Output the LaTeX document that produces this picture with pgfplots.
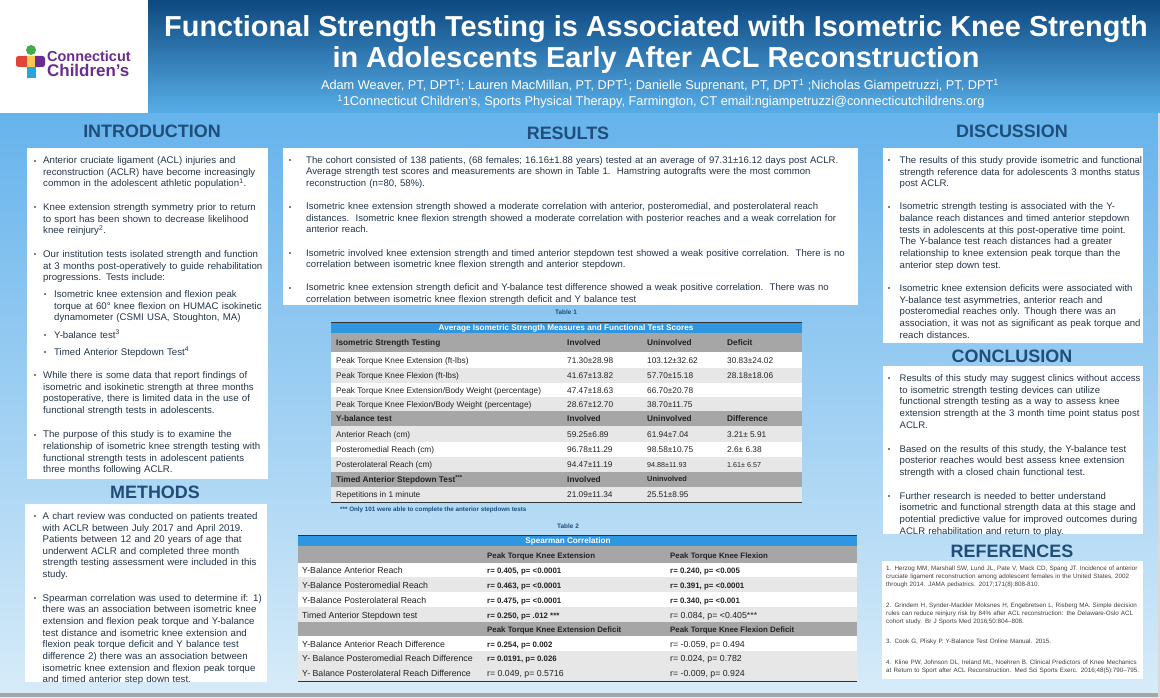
\documentclass[border=0pt]{standalone}
\usepackage{pgfplots}
\pgfplotsset{compat=1.18}
\usepackage{fontspec}
\setmainfont{Liberation Sans}
\definecolor{hdrtop}{HTML}{0D4880}
\definecolor{hdrbot}{HTML}{58AEE8}
\definecolor{bgtop}{HTML}{66B3EC}
\definecolor{bgbot}{HTML}{D8ECF9}
\definecolor{headblue}{HTML}{1E4E79}
\definecolor{bodytext}{HTML}{233549}
\definecolor{bulgray}{HTML}{7F7F7F}
\definecolor{tblue}{HTML}{2F96E2}
\definecolor{tgray}{HTML}{A6A6A6}
\definecolor{tlight}{HTML}{E7E7E7}
\definecolor{ttext}{HTML}{222222}
\definecolor{lgred}{HTML}{E0453A}
\definecolor{lgyel}{HTML}{F6C850}
\definecolor{lgpur}{HTML}{6B2C91}
\definecolor{lgblu}{HTML}{28A4DE}
\definecolor{lggrn}{HTML}{3FAE49}
\newlength\bind
\newlength\sbind
\def\nl{\unskip\break}
\newcommand{\bmark}{\textcolor{bulgray}{\rule[0.22em]{2bp}{2bp}}}
\newcommand{\bul}[1]{\par\noindent\hangindent=\bind\hangafter=1\makebox[\bind][l]{\hspace{1bp}\bmark}#1\par}
\newcommand{\sbul}[1]{\par\noindent\hangindent=\dimexpr\sbind+10bp\relax\hangafter=1\hspace*{\sbind}\makebox[10bp][l]{\bmark}#1\par}
\newcommand{\gap}[1]{\par\vspace{#1bp}}
\newcommand{\hd}[3]{\node[anchor=base, inner sep=0pt, font=\bfseries\fontsize{18}{20}\selectfont, text=headblue] at (axis cs:#1,#2) {#3};}
\newcommand{\tfont}{\fontsize{8.3}{9.5}\selectfont}
\newcommand{\tfontb}{\fontsize{8.8}{9.5}\selectfont}
\newcommand{\tfontbb}{\fontsize{7.9}{9.5}\selectfont}
\newcommand{\tc}[3]{\node[anchor=base west, inner sep=0pt, text=ttext, font=\tfont] at (axis cs:#1,#2) {#3};}
\newcommand{\tb}[3]{\node[anchor=base west, inner sep=0pt, text=ttext, font=\bfseries\tfont] at (axis cs:#1,#2) {#3};}
\newcommand{\tcc}[3]{\node[anchor=base west, inner sep=0pt, text=ttext, font=\tfontb] at (axis cs:#1,#2) {#3};}
\newcommand{\tbb}[3]{\node[anchor=base west, inner sep=0pt, text=ttext, font=\bfseries\tfontbb] at (axis cs:#1,#2) {#3};}
\newcommand{\rowf}[5]{\fill[#5] (axis cs:#1,#3) rectangle (axis cs:#2,#4);}
\begin{document}
\begin{tikzpicture}
\begin{axis}[
  width=1160bp, height=697bp, scale only axis,
  xmin=0, xmax=1160, ymin=0, ymax=697, y dir=reverse,
  hide axis, clip=false
]
% ---------- backgrounds ----------
\shade[top color=bgtop, bottom color=bgbot] (axis cs:0,113) rectangle (axis cs:1160,697);
\fill[white] (axis cs:0,0) rectangle (axis cs:148,113);
\shade[top color=hdrtop, bottom color=hdrbot] (axis cs:148,0) rectangle (axis cs:1160,113);
\fill[black!35] (axis cs:0,693) rectangle (axis cs:1160,697);
\fill[black!15] (axis cs:1157.5,113) rectangle (axis cs:1160,697);
% ---------- logo ----------
\fill[lgred, rounded corners=2.5bp] (axis cs:16,56) rectangle (axis cs:29,67);
\fill[lgpur, rounded corners=2.5bp] (axis cs:33,56) rectangle (axis cs:45,67);
\fill[lgyel] (axis cs:26.5,56) rectangle (axis cs:35,67);
\fill[lgblu] (axis cs:26.5,67) rectangle (axis cs:35.5,78);
\fill[lggrn] (axis cs:31,50) circle[radius=5bp];
\node[anchor=base west, inner sep=0pt, text=lgpur, font=\bfseries\fontsize{14.5}{15}\selectfont] at (axis cs:47,61.5) {Connecticut};
\node[anchor=base west, inner sep=0pt, text=lgpur, font=\bfseries\fontsize{17}{18}\selectfont] at (axis cs:47,77) {Children’s};
% ---------- title ----------
\node[anchor=base, inner sep=0pt, text=white, font=\bfseries\fontsize{29}{31}\selectfont] at (axis cs:656,37) {Functional Strength Testing is Associated with Isometric Knee Strength};
\node[anchor=base, inner sep=0pt, text=white, font=\bfseries\fontsize{29}{31}\selectfont] at (axis cs:656,67.5) {in Adolescents Early After ACL Reconstruction};
\node[anchor=base, inner sep=0pt, text=white, font=\fontsize{12.8}{14}\selectfont] at (axis cs:660,89.5) {Adam Weaver, PT, DPT\textsuperscript{1}; Lauren MacMillan, PT, DPT\textsuperscript{1}; Danielle Suprenant, PT, DPT\textsuperscript{1} ;Nicholas Giampetruzzi, PT, DPT\textsuperscript{1}};
\node[anchor=base, inner sep=0pt, text=white, font=\fontsize{12.8}{14}\selectfont] at (axis cs:661,105.5) {\textsuperscript{1}1Connecticut Children’s, Sports Physical Therapy, Farmington, CT email:ngiampetruzzi@connecticutchildrens.org};
% ---------- headings ----------
\hd{152}{137.5}{INTRODUCTION}
\hd{155}{498}{METHODS}
\hd{568}{139.5}{RESULTS}
\hd{1012}{137.5}{DISCUSSION}
\hd{1012}{362}{CONCLUSION}
\hd{1012}{557}{REFERENCES}
% ---------- white boxes ----------
\fill[white] (axis cs:27,148) rectangle (axis cs:268,479);
\fill[white] (axis cs:25,504) rectangle (axis cs:267,682);
\fill[white] (axis cs:283,148) rectangle (axis cs:858,305);
\fill[white] (axis cs:883,148) rectangle (axis cs:1143,343);
\fill[white] (axis cs:883,366) rectangle (axis cs:1143,534);
\fill[white] (axis cs:882,561) rectangle (axis cs:1143,679);
% ---------- introduction ----------
\node[anchor=north west, inner sep=0pt, text width=245bp, text=bodytext, font=\fontsize{9.7}{11.7}\selectfont] at (axis cs:33,151.8) {%
\raggedright\setlength\bind{10bp}\setlength\sbind{11bp}%
\bul{Anterior cruciate ligament (ACL) injuries and\nl reconstruction (ACLR) have become increasingly\nl common in the adolescent athletic population\textsuperscript{1}.}\gap{12}
\bul{Knee extension strength symmetry prior to return\nl to sport has been shown to decrease likelihood\nl knee reinjury\textsuperscript{2}.}\gap{12}
\bul{Our institution tests isolated strength and function\nl at 3 months post-operatively to guide rehabilitation\nl progressions. Tests include:}\gap{5}
\sbul{Isometric knee extension and flexion peak\nl torque at 60° knee flexion on HUMAC isokinetic\nl dynamometer (CSMI USA, Stoughton, MA)}\gap{6}
\sbul{Y-balance test\textsuperscript{3}}\gap{5}
\sbul{Timed Anterior Stepdown Test\textsuperscript{4}}\gap{11.5}
\bul{While there is some data that report findings of\nl isometric and isokinetic strength at three months\nl postoperative, there is limited data in the use of\nl functional strength tests in adolescents.}\gap{13}
\bul{The purpose of this study is to examine the\nl relationship of isometric knee strength testing with\nl functional strength tests in adolescent patients\nl three months following ACLR.}};
% ---------- methods ----------
\node[anchor=north west, inner sep=0pt, text width=245bp, text=bodytext, font=\fontsize{9.7}{11.7}\selectfont] at (axis cs:33,507.5) {%
\raggedright\setlength\bind{9.5bp}%
\bul{A chart review was conducted on patients treated\nl with ACLR between July 2017 and April 2019.\nl Patients between 12 and 20 years of age that\nl underwent ACLR and completed three month\nl strength testing assessment were included in this\nl study.}\gap{12}
\bul{Spearman correlation was used to determine if: 1)\nl there was an association between isometric knee\nl extension and flexion peak torque and Y-balance\nl test distance and isometric knee extension and\nl flexion peak torque deficit and Y balance test\nl difference 2) there was an association between\nl isometric knee extension and flexion peak torque\nl and timed anterior step down test.}};
% ---------- results ----------
\node[anchor=north west, inner sep=0pt, text width=572bp, text=bodytext, font=\fontsize{9.6}{11.7}\selectfont] at (axis cs:288,151.3) {%
\raggedright\setlength\bind{18bp}%
\bul{The cohort consisted of 138 patients, (68 females; 16.16±1.88 years) tested at an average of 97.31±16.12 days post ACLR.\nl Average strength test scores and measurements are shown in Table 1.\ \ Hamstring autografts were the most common\nl reconstruction (n=80, 58\%).}\gap{11.5}
\bul{Isometric knee extension strength showed a moderate correlation with anterior, posteromedial, and posterolateral reach\nl distances.\ \ Isometric knee flexion strength showed a moderate correlation with posterior reaches and a weak correlation for\nl anterior reach.}\gap{11.5}
\bul{Isometric involved knee extension strength and timed anterior stepdown test showed a weak positive correlation.\ \ There is no\nl correlation between isometric knee flexion strength and anterior stepdown.}\gap{11.5}
\bul{Isometric knee extension strength deficit and Y-balance test difference showed a weak positive correlation.\ \ There was no\nl correlation between isometric knee flexion strength deficit and Y balance test}};
% ---------- discussion ----------
\node[anchor=north west, inner sep=0pt, text width=262bp, text=bodytext, font=\fontsize{9.6}{11.8}\selectfont] at (axis cs:887,151.5) {%
\raggedright\setlength\bind{12.5bp}%
\bul{The results of this study provide isometric and functional\nl strength reference data for adolescents 3 months status\nl post ACLR.}\gap{11}
\bul{Isometric strength testing is associated with the Y-\nl balance reach distances and timed anterior stepdown\nl tests in adolescents at this post-operative time point.\nl The Y-balance test reach distances had a greater\nl relationship to knee extension peak torque than the\nl anterior step down test.}\gap{11}
\bul{Isometric knee extension deficits were associated with\nl Y-balance test asymmetries, anterior reach and\nl posteromedial reaches only. Though there was an\nl association, it was not as significant as peak torque and\nl reach distances.}};
% ---------- conclusion ----------
\node[anchor=north west, inner sep=0pt, text width=262bp, text=bodytext, font=\fontsize{9.6}{11.8}\selectfont] at (axis cs:887,369.5) {%
\raggedright\setlength\bind{12.5bp}%
\bul{Results of this study may suggest clinics without access\nl to isometric strength testing devices can utilize\nl functional strength testing as a way to assess knee\nl extension strength at the 3 month time point status post\nl ACLR.}\gap{12}
\bul{Based on the results of this study, the Y-balance test\nl posterior reaches would best assess knee extension\nl strength with a closed chain functional test.}\gap{11.5}
\bul{Further research is needed to better understand\nl isometric and functional strength data at this stage and\nl potential predictive value for improved outcomes during\nl ACLR rehabilitation and return to play.}};
% ---------- references ----------
\node[anchor=north west, inner sep=0pt, text width=262bp, text=black!75, font=\fontsize{6.3}{8}\selectfont] at (axis cs:886,566) {%
\raggedright
1. Herzog MM, Marshall SW, Lund JL, Pate V, Mack CD, Spang JT. Incidence of anterior\nl cruciate ligament reconstruction among adolescent females in the United States, 2002\nl through 2014. JAMA pediatrics. 2017;171(8):808-810.\par\vspace{13bp}
2. Grindem H, Synder-Mackler Moksnes H, Engebretsen L, Risberg MA. Simple decision\nl rules can reduce reinjury risk by 84\% after ACL reconstruction: the Delaware-Oslo ACL\nl cohort study. Br J Sports Med 2016;50:804–808.\par\vspace{12bp}
3. Cook G, Plisky P. Y-Balance Test Online Manual. 2015.\par\vspace{13bp}
4. Kline PW, Johnson DL, Ireland ML, Noehren B. Clinical Predictors of Knee Mechanics\nl at Return to Sport after ACL Reconstruction. Med Sci Sports Exerc. 2016;48(5):790–795.};
% ---------- table 1 ----------
\node[anchor=base, inner sep=0pt, text=headblue, font=\bfseries\fontsize{6.5}{8}\selectfont] at (axis cs:566,314.5) {Table 1};
\rowf{331}{802}{322}{333}{tblue}
\rowf{331}{802}{333}{352}{tgray}
\rowf{331}{802}{352}{368}{white}
\rowf{331}{802}{368}{383}{tlight}
\rowf{331}{802}{383}{397}{white}
\rowf{331}{802}{397}{411}{tlight}
\rowf{331}{802}{411}{426}{tgray}
\rowf{331}{802}{426}{442}{tlight}
\rowf{331}{802}{442}{457}{white}
\rowf{331}{802}{457}{472}{tlight}
\rowf{331}{802}{472}{487}{tgray}
\rowf{331}{802}{487}{502}{tlight}
\draw[black!80, line width=0.8bp] (axis cs:331,322) -- (axis cs:802,322);
\draw[black!80, line width=0.8bp] (axis cs:331,502) -- (axis cs:802,502);
\node[anchor=base, inner sep=0pt, text=white, font=\bfseries\fontsize{8.2}{9}\selectfont] at (axis cs:566,330.5) {Average Isometric Strength Measures and Functional Test Scores};
\tb{336}{345.5}{Isometric Strength Testing}
\tb{567}{345.5}{Involved}
\tb{647}{345.5}{Uninvolved}
\tb{727}{345.5}{Deficit}
\tc{336}{363}{Peak Torque Knee Extension (ft-lbs)}
\tc{567}{363}{71.30±28.98}
\tc{647}{363}{103.12±32.62}
\tc{727}{363}{30.83±24.02}
\tc{336}{378.5}{Peak Torque Knee Flexion (ft-lbs)}
\tc{567}{378.5}{41.67±13.82}
\tc{647}{378.5}{57.70±15.18}
\tc{727}{378.5}{28.18±18.06}
\tc{336}{393}{Peak Torque Knee Extension/Body Weight (percentage)}
\tc{567}{393}{47.47±18.63}
\tc{647}{393}{66.70±20.78}
\tc{336}{407}{Peak Torque Knee Flexion/Body Weight (percentage)}
\tc{567}{407}{28.67±12.70}
\tc{647}{407}{38.70±11.75}
\tb{336}{421.5}{Y-balance test}
\tb{567}{421.5}{Involved}
\tb{647}{421.5}{Uninvolved}
\tb{727}{421.5}{Difference}
\tc{336}{437}{Anterior Reach (cm)}
\tc{567}{437}{59.25±6.89}
\tc{647}{437}{61.94±7.04}
\tc{727}{437}{3.21± 5.91}
\tc{336}{452.5}{Posteromedial Reach (cm)}
\tc{567}{452.5}{96.78±11.29}
\tc{647}{452.5}{98.58±10.75}
\tc{727}{452.5}{2.6± 6.38}
\tc{336}{467.5}{Posterolateral Reach (cm)}
\tc{567}{467.5}{94.47±11.19}
\node[anchor=base west, inner sep=0pt, text=ttext, font=\fontsize{7.2}{8}\selectfont] at (axis cs:647,467.5) {94.88±11.93};
\node[anchor=base west, inner sep=0pt, text=ttext, font=\fontsize{7.2}{8}\selectfont] at (axis cs:727,467.5) {1.61± 6.57};
\tb{336}{482.5}{Timed Anterior Stepdown Test\textsuperscript{***}}
\tb{567}{482.5}{Involved}
\node[anchor=base west, inner sep=0pt, text=ttext, font=\bfseries\fontsize{7.4}{8}\selectfont] at (axis cs:647,481.5) {Uninvolved};
\tc{336}{497.5}{Repetitions in 1 minute}
\tc{567}{497.5}{21.09±11.34}
\tc{647}{497.5}{25.51±8.95}
\node[anchor=base west, inner sep=0pt, text=headblue, font=\bfseries\fontsize{6.3}{8}\selectfont] at (axis cs:340,511.5) {*** Only 101 were able to complete the anterior stepdown tests};
% ---------- table 2 ----------
\node[anchor=base, inner sep=0pt, text=headblue, font=\bfseries\fontsize{6.5}{8}\selectfont] at (axis cs:568,528) {Table 2};
\rowf{298}{857}{535}{546}{tblue}
\rowf{298}{857}{546}{563}{tgray}
\rowf{298}{857}{563}{577}{white}
\rowf{298}{857}{577}{592}{tlight}
\rowf{298}{857}{592}{607}{white}
\rowf{298}{857}{607}{622}{tlight}
\rowf{298}{857}{622}{636}{tgray}
\rowf{298}{857}{636}{651}{white}
\rowf{298}{857}{651}{666}{tlight}
\rowf{298}{857}{666}{681}{tlight}
\draw[black!80, line width=0.8bp] (axis cs:298,535) -- (axis cs:857,535);
\draw[black!80, line width=0.8bp] (axis cs:298,681) -- (axis cs:857,681);
\node[anchor=base, inner sep=0pt, text=white, font=\bfseries\fontsize{8.2}{9}\selectfont] at (axis cs:568,543.5) {Spearman Correlation};
\tbb{487}{558}{Peak Torque Knee Extension}
\tbb{670}{558}{Peak Torque Knee Flexion}
\tcc{302}{573}{Y-Balance Anterior Reach}
\tbb{487}{573}{r= 0.405, p= <0.0001}
\tbb{670}{573}{r= 0.240, p= <0.005}
\tcc{302}{588}{Y-Balance Posteromedial Reach}
\tbb{487}{588}{r= 0.463, p= <0.0001}
\tbb{670}{588}{r= 0.391, p= <0.0001}
\tcc{302}{603}{Y-Balance Posterolateral Reach}
\tbb{487}{603}{r= 0.475, p= <0.0001}
\tbb{670}{603}{r= 0.340, p= <0.001}
\tcc{302}{618}{Timed Anterior Stepdown test}
\tbb{487}{618}{r= 0.250, p= .012 ***}
\tcc{670}{618}{r= 0.084, p= <0.405***}
\tbb{487}{632}{Peak Torque Knee Extension Deficit}
\tbb{670}{632}{Peak Torque Knee Flexion Deficit}
\tcc{302}{647}{Y-Balance Anterior Reach Difference}
\tbb{487}{647}{r= 0.254, p= 0.002}
\tcc{670}{647}{r= -0.059, p= 0.494}
\tcc{302}{661.5}{Y- Balance Posteromedial Reach Difference}
\tbb{487}{661.5}{r= 0.0191, p= 0.026}
\tcc{670}{661.5}{r= 0.024, p= 0.782}
\tcc{302}{676}{Y- Balance Posterolateral Reach Difference}
\tcc{487}{676}{r= 0.049, p= 0.5716}
\tcc{670}{676}{r= -0.009, p= 0.924}
\end{axis}
\end{tikzpicture}
\end{document}
